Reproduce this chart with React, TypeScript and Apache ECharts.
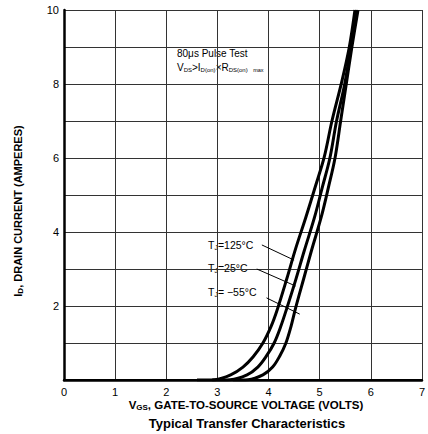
import React, { useEffect, useRef } from "react";
import * as echarts from "echarts";

const xTicks = [0, 1, 2, 3, 4, 5, 6, 7];
const yTickLabels = ["2", "4", "6", "8", "10"];

const curve125: [number, number][] = [
  [2.6, 0], [2.95, 0.01], [3.26, 0.14], [3.5, 0.35], [3.7, 0.63], [3.89, 1.0], [4.05, 1.45],
  [4.17, 1.9], [4.36, 2.75], [4.53, 3.55], [4.73, 4.4], [4.92, 5.25], [5.09, 6.03], [5.24, 7.0],
  [5.43, 8.05], [5.58, 9.0], [5.69, 10],
];
const curve25: [number, number][] = [
  [2.9, 0], [3.25, 0.01], [3.58, 0.14], [3.79, 0.35], [3.95, 0.63], [4.11, 1.0], [4.24, 1.45],
  [4.36, 1.95], [4.53, 2.7], [4.7, 3.5], [4.9, 4.4], [5.05, 5.2], [5.2, 6.0], [5.33, 7.0],
  [5.49, 8.0], [5.61, 9.0], [5.72, 10],
];
const curveM55: [number, number][] = [
  [3.3, 0], [3.6, 0.01], [3.89, 0.14], [4.08, 0.35], [4.22, 0.65], [4.34, 1.0], [4.44, 1.45],
  [4.53, 1.95], [4.69, 2.75], [4.84, 3.5], [5.03, 4.4], [5.17, 5.2], [5.3, 6.0], [5.41, 7.0],
  [5.52, 8.0], [5.63, 9.0], [5.75, 10],
];

const leader125: [number, number][] = [[3.87, 3.65], [4.5, 3.24]];
const leader25: [number, number][] = [[3.77, 3.0], [4.53, 2.54]];
const leaderM55: [number, number][] = [[3.96, 2.22], [4.61, 1.78]];

const FONT = "Liberation Sans, Arial, Helvetica, sans-serif";

export default function App() {
  const ref = useRef<HTMLDivElement>(null);
  useEffect(() => {
    if (!ref.current) return;
    const chart = echarts.init(ref.current, undefined, { renderer: "svg" });
    const curveSeries = (data: [number, number][]) => ({
      type: "line",
      data,
      smooth: 0.35,
      symbol: "none",
      lineStyle: { color: "#000", width: 3 },
      z: 5,
    });
    const leaderSeries = (data: [number, number][]) => ({
      type: "line",
      data,
      symbol: "none",
      lineStyle: { color: "#000", width: 1 },
      z: 4,
    });
    const sub = { fontSize: 7, fontFamily: FONT, color: "#000", padding: [5, 0, 0, 0] };
    const base = { fontSize: 11, fontFamily: FONT, color: "#000" };
    const tLabel = (text: string, y: number) => ({
      type: "text",
      x: 208,
      y,
      style: {
        text,
        fill: "#000",
        ...base,
        fontSize: 10.5,
        align: "left",
        verticalAlign: "middle",
        rich: { s: sub },
      },
    });
    chart.setOption({
      animation: false,
      backgroundColor: "#fff",
      grid: { left: 64, top: 10, width: 367.5, height: 370, containLabel: false },
      xAxis: [
        {
          type: "value",
          min: 0,
          max: 7,
          interval: 1,
          axisLine: { show: true, onZero: false, lineStyle: { color: "#000", width: 2.5 } },
          axisTick: { show: false },
          splitLine: { show: true, lineStyle: { color: "#333", width: 1 } },
          axisLabel: {
            color: "#000",
            fontSize: 11,
            fontFamily: FONT,
            margin: 6,
            formatter: (v: number) => (xTicks.includes(v) ? String(v) : ""),
          },
        },
        {
          type: "value",
          position: "top",
          min: 0,
          max: 7,
          axisLine: { show: true, lineStyle: { color: "#000", width: 2 } },
          axisTick: { show: false },
          axisLabel: { show: false },
          splitLine: { show: false },
        },
      ],
      yAxis: {
        type: "value",
        min: 0,
        max: 10,
        interval: 1,
        axisLine: { show: true, lineStyle: { color: "#000", width: 2.5 } },
        axisTick: { show: false },
        splitLine: { show: true, lineStyle: { color: "#333", width: 1 } },
        axisLabel: {
          color: "#000",
          fontSize: 11,
          fontFamily: FONT,
          margin: 5,
          formatter: (v: number) => (yTickLabels.includes(String(v)) ? String(v) : ""),
        },
      },
      series: [
        curveSeries(curve125),
        curveSeries(curve25),
        curveSeries(curveM55),
        leaderSeries(leader125),
        leaderSeries(leader25),
        leaderSeries(leaderM55),
      ],
      graphic: [
        {
          type: "text",
          x: 177,
          y: 53,
          style: { text: "80\u03bcs Pulse Test", font: `10px ${FONT}`, fill: "#000", verticalAlign: "middle" },
        },
        {
          type: "text",
          x: 177,
          y: 67,
          style: {
            text: "V{s|DS}>I{s|D(on)}\u00d7R{s|DS(on)}  {m|max}",
            fill: "#000",
            ...base,
            fontSize: 10,
            verticalAlign: "middle",
            rich: { s: { ...sub, fontSize: 6 }, m: { ...sub, fontSize: 5.5 } },
          },
        },
        tLabel("T{s|J}=125\u00b0C", 245),
        tLabel("T{s|J}=25\u00b0C", 268),
        tLabel("T{s|J}= \u221255\u00b0C", 292),
        {
          type: "text",
          x: 18,
          y: 211,
          rotation: Math.PI / 2,
          style: {
            text: "I{s|D}, DRAIN CURRENT (AMPERES)",
            align: "center",
            verticalAlign: "middle",
            fill: "#000",
            fontSize: 11,
            fontWeight: "bold",
            fontFamily: FONT,
            rich: { s: { ...sub, fontWeight: "bold", fontSize: 8 } },
          },
        },
        {
          type: "text",
          x: 246,
          y: 405,
          style: {
            text: "V{s|GS}, GATE-TO-SOURCE VOLTAGE (VOLTS)",
            align: "center",
            verticalAlign: "middle",
            fill: "#000",
            fontSize: 11.5,
            fontWeight: "bold",
            fontFamily: FONT,
            rich: { s: { ...sub, fontWeight: "bold", fontSize: 8 } },
          },
        },
        {
          type: "text",
          x: 247,
          y: 423,
          style: {
            text: "Typical Transfer Characteristics",
            align: "center",
            verticalAlign: "middle",
            fill: "#000",
            fontSize: 13,
            fontWeight: "bold",
            fontFamily: FONT,
          },
        },
      ],
    });
    return () => chart.dispose();
  }, []);
  return <div ref={ref} style={{ width: 428, height: 434, position: "absolute", left: 0, top: 0 }} />;
}
